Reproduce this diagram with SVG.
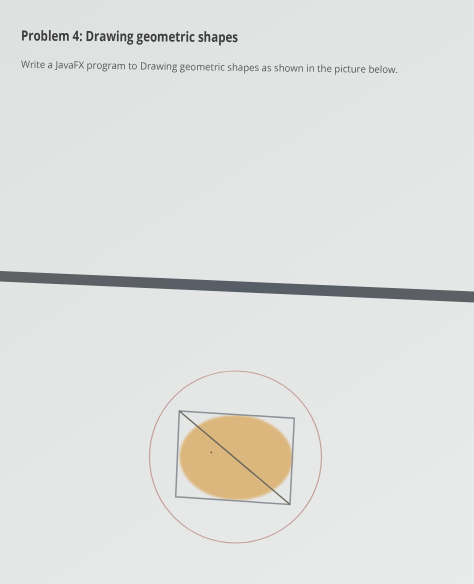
<svg xmlns="http://www.w3.org/2000/svg" width="474" height="584" viewBox="0 0 474 584">
  <defs>
    <linearGradient id="bgTop" x1="0" y1="0" x2="1" y2="1">
      <stop offset="0" stop-color="#dfe1e1"/>
      <stop offset="1" stop-color="#e6e7e7"/>
    </linearGradient>
    <linearGradient id="bgBot" x1="0" y1="0" x2="1" y2="1">
      <stop offset="0" stop-color="#e2e4e4"/>
      <stop offset="1" stop-color="#e9eaea"/>
    </linearGradient>
    <linearGradient id="bar" x1="0" y1="0" x2="1" y2="0">
      <stop offset="0" stop-color="#5f6164"/>
      <stop offset="0.5" stop-color="#575d66"/>
      <stop offset="1" stop-color="#5c5f64"/>
    </linearGradient>
    <filter id="soft" x="-10%" y="-10%" width="120%" height="120%">
      <feGaussianBlur stdDeviation="0.9"/>
    </filter>
    <filter id="softer" x="-10%" y="-10%" width="120%" height="120%">
      <feGaussianBlur stdDeviation="0.4"/>
    </filter>
  </defs>
  <style>
    .title { font-family: "Open Sans", "Liberation Sans", sans-serif; font-weight: bold; font-size: 14px; fill: #3c3d3f; }
    .body { font-family: "Open Sans", "Liberation Sans", sans-serif; font-size: 10px; fill: #57595b; }
    .shape { fill: none; }
  </style>

  <rect x="0" y="0" width="474" height="290" fill="url(#bgTop)"/>
  <rect x="0" y="276" width="474" height="308" fill="url(#bgBot)"/>

  <g id="heading" filter="url(#softer)">
    <text class="title" x="21" y="40.5" textLength="217" lengthAdjust="spacingAndGlyphs" transform="rotate(0.4 21 40.5)">Problem 4: Drawing geometric shapes</text>
    <text class="body" x="21" y="67.8" textLength="377" lengthAdjust="spacingAndGlyphs" transform="rotate(0.8 21 67.8)">Write a JavaFX program to Drawing geometric shapes as shown in the picture below.</text>
  </g>

  <g id="divider" filter="url(#softer)">
    <polygon points="0,271 474,291.5 474,302.5 0,281.5" fill="url(#bar)"/>
  </g>

  <g id="figure">
    <g id="ellipse" filter="url(#soft)">
      <ellipse cx="236" cy="457.5" rx="56.5" ry="42.5" transform="rotate(2 236 457.5)" fill="#dcb77d"/>
    </g>
    <g id="circle" filter="url(#softer)">
      <circle cx="235.5" cy="457" r="86" class="shape" stroke="#c6a29c" stroke-width="1.2"/>
    </g>
    <g id="rectangle" filter="url(#softer)">
      <polygon points="179.3,411 294.3,418.3 290,504.5 175.7,496.7" class="shape" stroke="#8c9297" stroke-width="1.5"/>
    </g>
    <g id="connectors" filter="url(#softer)">
      <line x1="179.3" y1="411" x2="290" y2="504.5" stroke="#6c6a5e" stroke-width="1.4"/>
    </g>
    <g id="center-dot">
      <circle cx="211.3" cy="452.3" r="0.9" fill="#6a5a40"/>
    </g>
  </g>
</svg>
